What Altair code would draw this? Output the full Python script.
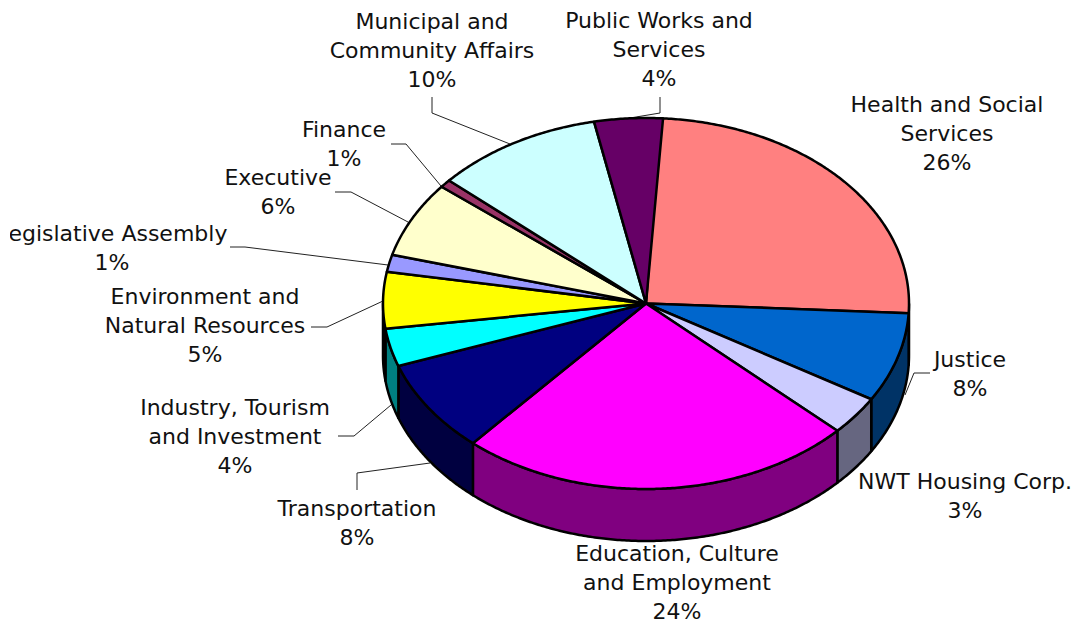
import math
import altair as alt
import pandas as pd

names = ["Health and Social Services", "Justice", "NWT Housing Corp.",
         "Education, Culture and Employment", "Transportation",
         "Industry, Tourism and Investment", "Environment and Natural Resources",
         "Legislative Assembly", "Executive", "Finance",
         "Municipal and Community Affairs", "Public Works and Services"]
shares = [25.0, 7.8, 3.4, 24.4, 8.1, 3.3, 4.9, 1.5, 6.6, 0.7, 10.3, 4.2]
top_colors = ["#FF8080", "#0066CC", "#CCCCFF", "#FF00FF", "#000080", "#00FFFF",
              "#FFFF00", "#9999FF", "#FFFFCC", "#993366", "#CCFFFF", "#660066"]
side_colors = ["#804040", "#003366", "#666680", "#800080", "#000040", "#008080",
               "#808000", "#4D4D80", "#808066", "#4D1A33", "#668080", "#330033"]

label_lines = ["Health and Social\nServices\n26%", "Justice\n8%", "NWT Housing Corp.\n3%",
               "Education, Culture\nand Employment\n24%", "Transportation\n8%",
               "Industry, Tourism\nand Investment\n4%", "Environment and\nNatural Resources\n5%",
               "Legislative Assembly\n1%", "Executive\n6%", "Finance\n1%",
               "Municipal and\nCommunity Affairs\n10%", "Public Works and\nServices\n4%"]
label_x = [947, 970, 965, 677, 357, 235, 205, 112, 278, 344, 432, 659]
label_y = [112, 367, 489, 561, 516, 415, 304, 241, 185, 137, 29, 28]

leaders = [
    [(432, 97), (432, 113), (510, 144)],
    [(391, 144), (406, 144), (441, 186)],
    [(335, 192), (351, 192), (408, 222)],
    [(230, 247), (245, 247), (388, 265)],
    [(311, 327), (327, 327), (383, 301)],
    [(338, 436), (354, 436), (391, 405)],
    [(357, 490), (357, 473), (430, 463)],
    [(660, 97), (660, 113), (630, 118)],
    [(930, 373), (914, 373), (905, 395)],
]

CX, CY, RX, RY, DEPTH, START = 646, 303.5, 263, 185.5, 52, 3.0


def rim(t):
    r = math.radians(t)
    return CX + RX * math.sin(r), CY - RY * math.cos(r)


def arc_points(a, b):
    n = max(2, int((b - a) / 0.5) + 1)
    return [rim(a + (b - a) * k / n) for k in range(n + 1)]


top_rows, side_rows = [], []
angle = START
for name, share in zip(names, shares):
    end = angle + share * 3.6
    pts = [(CX, CY)] + arc_points(angle, end) + [(CX, CY)]
    for i, (x, y) in enumerate(pts):
        top_rows.append(dict(name=name, i=i, x=x, y=y))
    lo, hi = max(angle, 90), min(end, 270)
    if lo < hi:
        arc = arc_points(lo, hi)
        pts = arc + [(x, y + DEPTH) for x, y in reversed(arc)] + [arc[0]]
        for i, (x, y) in enumerate(pts):
            side_rows.append(dict(name=name, i=i, x=x, y=y))
    angle = end

leader_rows = [dict(k=k, i=i, x=p[0], y=p[1]) for k, line in enumerate(leaders) for i, p in enumerate(line)]
labels = pd.DataFrame(dict(label=label_lines, x=label_x, y=label_y))

x_enc = alt.X("x:Q", axis=None, scale=alt.Scale(domain=[10, 1073], zero=False, nice=False))
y_enc = alt.Y("y:Q", axis=None, scale=alt.Scale(domain=[624, 8], zero=False, nice=False))


def polygons(rows, colors):
    return alt.Chart(pd.DataFrame(rows)).mark_line(
        stroke="black", strokeWidth=2.5, strokeJoin="round", interpolate="linear", clip=True
    ).encode(
        x=x_enc, y=y_enc, order="i:Q", detail="name:N",
        fill=alt.Fill("name:N", legend=None, scale=alt.Scale(domain=names, range=colors)),
    )


sides = polygons(side_rows, side_colors)
tops = polygons(top_rows, top_colors)
lines = alt.Chart(pd.DataFrame(leader_rows)).mark_line(
    stroke="#222222", strokeWidth=1, clip=True
).encode(x=x_enc, y=y_enc, order="i:Q", detail="k:N")
text = alt.Chart(labels).mark_text(
    font="DejaVu Sans", fontSize=22, lineBreak="\n", lineHeight=28.8,
    align="center", baseline="alphabetic", color="#111111", clip=True
).encode(x=x_enc, y=y_enc, text="label:N")

chart = alt.layer(lines, sides, tops, text).resolve_scale(fill="independent").properties(
    width=1063, height=616,
    padding={"left": 2, "top": 0, "right": 0, "bottom": 0},
    autosize=alt.AutoSizeParams(type="none"),
).configure_view(stroke=None)

chart.save("out.html", embed_options={"renderer": "svg", "actions": False})
